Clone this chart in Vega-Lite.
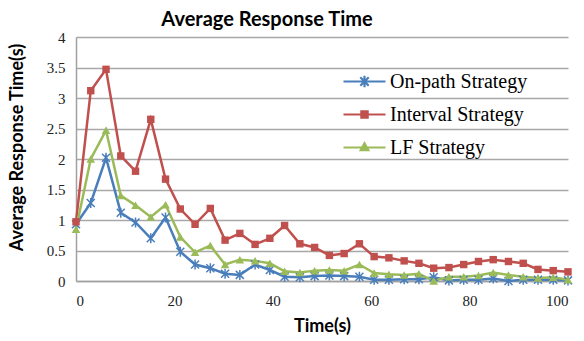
{
"$schema": "https://vega.github.io/schema/vega-lite/v6.json",
"width": 492, "height": 244,
"autosize": {"type": "none"},
"padding": {"left": 76, "top": 37, "right": 16, "bottom": 60},
"background": "white",
"title": {"text": "Average Response Time", "font": "Lato", "fontSize": 20, "fontWeight": "bold", "color": "#000000", "anchor": "middle", "dx": -55, "offset": 0},
"config": {"view": {"stroke": null}},
"data": {"values": [
{"t":0,"s":"On-path Strategy","v":0.93},{"t":3,"s":"On-path Strategy","v":1.28},{"t":6.1,"s":"On-path Strategy","v":2.02},{"t":9.1,"s":"On-path Strategy","v":1.12},{"t":12.1,"s":"On-path Strategy","v":0.96},{"t":15.2,"s":"On-path Strategy","v":0.70},{"t":18.2,"s":"On-path Strategy","v":1.04},{"t":21.2,"s":"On-path Strategy","v":0.48},{"t":24.2,"s":"On-path Strategy","v":0.27},{"t":27.3,"s":"On-path Strategy","v":0.21},{"t":30.3,"s":"On-path Strategy","v":0.12},{"t":33.3,"s":"On-path Strategy","v":0.10},{"t":36.4,"s":"On-path Strategy","v":0.27},{"t":39.4,"s":"On-path Strategy","v":0.18},{"t":42.4,"s":"On-path Strategy","v":0.07},{"t":45.5,"s":"On-path Strategy","v":0.06},{"t":48.5,"s":"On-path Strategy","v":0.08},{"t":51.5,"s":"On-path Strategy","v":0.09},{"t":54.5,"s":"On-path Strategy","v":0.08},{"t":57.6,"s":"On-path Strategy","v":0.07},{"t":60.6,"s":"On-path Strategy","v":0.02},{"t":63.6,"s":"On-path Strategy","v":0.02},{"t":66.7,"s":"On-path Strategy","v":0.03},{"t":69.7,"s":"On-path Strategy","v":0.03},{"t":72.7,"s":"On-path Strategy","v":0.06},{"t":75.8,"s":"On-path Strategy","v":0.01},{"t":78.8,"s":"On-path Strategy","v":0.02},{"t":81.8,"s":"On-path Strategy","v":0.02},{"t":84.8,"s":"On-path Strategy","v":0.04},{"t":87.9,"s":"On-path Strategy","v":0.0},{"t":90.9,"s":"On-path Strategy","v":0.02},{"t":93.9,"s":"On-path Strategy","v":0.02},{"t":97,"s":"On-path Strategy","v":0.02},{"t":100,"s":"On-path Strategy","v":0.01},
{"t":0,"s":"Interval Strategy","v":0.97},{"t":3,"s":"Interval Strategy","v":3.12},{"t":6.1,"s":"Interval Strategy","v":3.47},{"t":9.1,"s":"Interval Strategy","v":2.05},{"t":12.1,"s":"Interval Strategy","v":1.80},{"t":15.2,"s":"Interval Strategy","v":2.65},{"t":18.2,"s":"Interval Strategy","v":1.67},{"t":21.2,"s":"Interval Strategy","v":1.18},{"t":24.2,"s":"Interval Strategy","v":0.93},{"t":27.3,"s":"Interval Strategy","v":1.19},{"t":30.3,"s":"Interval Strategy","v":0.67},{"t":33.3,"s":"Interval Strategy","v":0.78},{"t":36.4,"s":"Interval Strategy","v":0.60},{"t":39.4,"s":"Interval Strategy","v":0.70},{"t":42.4,"s":"Interval Strategy","v":0.91},{"t":45.5,"s":"Interval Strategy","v":0.61},{"t":48.5,"s":"Interval Strategy","v":0.55},{"t":51.5,"s":"Interval Strategy","v":0.42},{"t":54.5,"s":"Interval Strategy","v":0.45},{"t":57.6,"s":"Interval Strategy","v":0.61},{"t":60.6,"s":"Interval Strategy","v":0.40},{"t":63.6,"s":"Interval Strategy","v":0.38},{"t":66.7,"s":"Interval Strategy","v":0.33},{"t":69.7,"s":"Interval Strategy","v":0.29},{"t":72.7,"s":"Interval Strategy","v":0.21},{"t":75.8,"s":"Interval Strategy","v":0.22},{"t":78.8,"s":"Interval Strategy","v":0.27},{"t":81.8,"s":"Interval Strategy","v":0.32},{"t":84.8,"s":"Interval Strategy","v":0.35},{"t":87.9,"s":"Interval Strategy","v":0.32},{"t":90.9,"s":"Interval Strategy","v":0.29},{"t":93.9,"s":"Interval Strategy","v":0.19},{"t":97,"s":"Interval Strategy","v":0.17},{"t":100,"s":"Interval Strategy","v":0.15},
{"t":0,"s":"LF Strategy","v":0.85},{"t":3,"s":"LF Strategy","v":2.0},{"t":6.1,"s":"LF Strategy","v":2.47},{"t":9.1,"s":"LF Strategy","v":1.40},{"t":12.1,"s":"LF Strategy","v":1.24},{"t":15.2,"s":"LF Strategy","v":1.05},{"t":18.2,"s":"LF Strategy","v":1.25},{"t":21.2,"s":"LF Strategy","v":0.72},{"t":24.2,"s":"LF Strategy","v":0.47},{"t":27.3,"s":"LF Strategy","v":0.58},{"t":30.3,"s":"LF Strategy","v":0.27},{"t":33.3,"s":"LF Strategy","v":0.35},{"t":36.4,"s":"LF Strategy","v":0.33},{"t":39.4,"s":"LF Strategy","v":0.29},{"t":42.4,"s":"LF Strategy","v":0.16},{"t":45.5,"s":"LF Strategy","v":0.14},{"t":48.5,"s":"LF Strategy","v":0.17},{"t":51.5,"s":"LF Strategy","v":0.18},{"t":54.5,"s":"LF Strategy","v":0.17},{"t":57.6,"s":"LF Strategy","v":0.27},{"t":60.6,"s":"LF Strategy","v":0.13},{"t":63.6,"s":"LF Strategy","v":0.11},{"t":66.7,"s":"LF Strategy","v":0.10},{"t":69.7,"s":"LF Strategy","v":0.12},{"t":72.7,"s":"LF Strategy","v":0.0},{"t":75.8,"s":"LF Strategy","v":0.07},{"t":78.8,"s":"LF Strategy","v":0.07},{"t":81.8,"s":"LF Strategy","v":0.09},{"t":84.8,"s":"LF Strategy","v":0.14},{"t":87.9,"s":"LF Strategy","v":0.10},{"t":90.9,"s":"LF Strategy","v":0.07},{"t":93.9,"s":"LF Strategy","v":0.05},{"t":97,"s":"LF Strategy","v":0.06},{"t":100,"s":"LF Strategy","v":0.02}
]},
"encoding": {
  "x": {"field": "t", "type": "quantitative", "scale": {"domain": [0, 100], "nice": false},
        "axis": {"values": [0, 20, 40, 60, 80, 100], "grid": false, "ticks": false, "domainColor": "#a0a0a0", "domainWidth": 1.5,
                 "labelFont": "Liberation Serif, DejaVu Serif, serif", "labelFontSize": 15, "labelColor": "#222222", "labelPadding": 12,
                 "title": "Time(s)", "titleFont": "Lato", "titleFontSize": 18, "titleFontWeight": "bold", "titleColor": "#000000", "titlePadding": 9}},
  "y": {"field": "v", "type": "quantitative", "scale": {"domain": [0, 4], "nice": false},
        "axis": {"values": [0, 0.5, 1, 1.5, 2, 2.5, 3, 3.5, 4], "format": "~g", "grid": true, "gridColor": "#a8a8a8", "gridWidth": 1.4, "ticks": false,
                 "domainColor": "#a0a0a0", "domainWidth": 1.5,
                 "labelFont": "Liberation Serif, DejaVu Serif, serif", "labelFontSize": 15, "labelColor": "#222222", "labelPadding": 11,
                 "title": "Average Response Time(s)", "titleFont": "Lato", "titleFontSize": 18, "titleFontWeight": "bold", "titleColor": "#000000",
                 "titleX": -59, "titleY": 110, "titleAlign": "center", "titleBaseline": "middle", "titleAngle": -90}}
},
"layer": [
  {"mark": {"type": "line", "strokeWidth": 2.5},
   "encoding": {"color": {"field": "s", "type": "nominal", "scale": {"domain": ["On-path Strategy", "Interval Strategy", "LF Strategy"], "range": ["#4a7ebb", "#c0504d", "#9bbb59"]},
       "legend": {"orient": "none", "legendX": 266, "legendY": 22, "title": null, "symbolSize": 1764, "padding": 0, "symbolType": "stroke",
                  "labelFont": "Liberation Serif, DejaVu Serif, serif", "labelFontSize": 20, "labelColor": "#000000", "labelOffset": 3, "rowPadding": -1,
                  "encode": {"symbols": {"update": {
                    "shape": {"signal": "datum.value === 'On-path Strategy' ? 'M-1,0L1,0M-0.2,-0.2L0.2,0.2M-0.2,0.2L0.2,-0.2M0,-0.27L0,0.27' : (datum.value === 'Interval Strategy' ? 'M-1,0L1,0M-0.15,-0.15L0.15,-0.15L0.15,0.15L-0.15,0.15Z' : 'M-1,0L1,0M0,-0.2L0.18,0.13L-0.18,0.13Z')"},
                    "size": {"value": 1764},
                    "fill": {"scale": "color", "field": "value"},
                    "stroke": {"scale": "color", "field": "value"},
                    "strokeWidth": {"value": 2.2},
                    "opacity": {"value": 1}}}}}}}},
  {"transform": [{"filter": {"field": "s", "equal": "On-path Strategy"}}],
   "mark": {"type": "point", "shape": "M-0.8,-0.8L0.8,0.8M-0.8,0.8L0.8,-0.8M0,-1L0,1", "size": 100, "filled": false, "color": "#4a7ebb", "strokeWidth": 1.5, "opacity": 1}},
  {"transform": [{"filter": {"field": "s", "equal": "Interval Strategy"}}],
   "mark": {"type": "point", "shape": "square", "size": 55, "filled": true, "color": "#c0504d", "opacity": 1}},
  {"transform": [{"filter": {"field": "s", "equal": "LF Strategy"}}],
   "mark": {"type": "point", "shape": "triangle-up", "size": 75, "filled": true, "color": "#9bbb59", "opacity": 1}}
]
}
